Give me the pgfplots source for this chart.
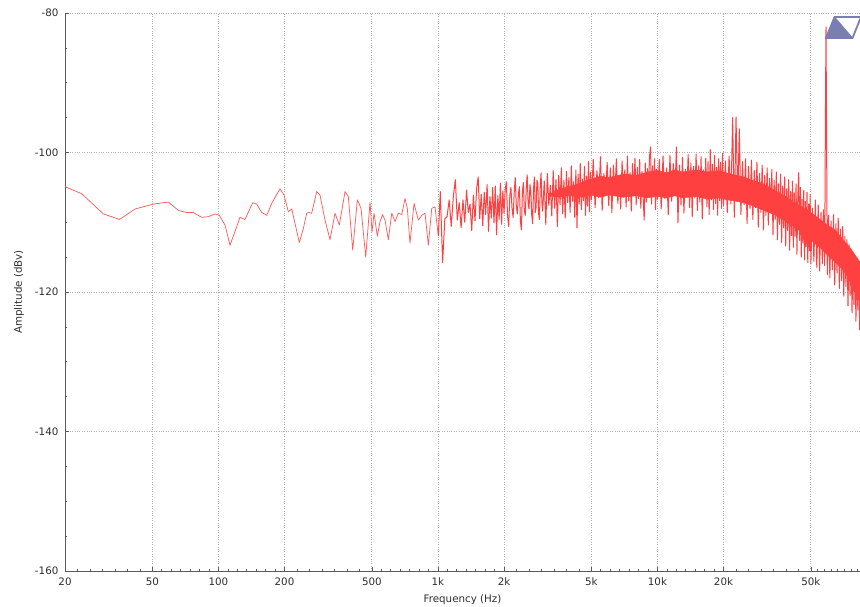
\documentclass[border=0pt]{standalone}
\usepackage{pgfplots}
\pgfplotsset{compat=1.18}
\usepackage{pgfplotstable}
\usepackage{fontspec}
\setmainfont{DejaVu Sans}
\definecolor{sigred}{RGB}{255,64,64}
\definecolor{markblue}{RGB}{122,126,176}
\definecolor{axgray}{RGB}{90,90,90}
\definecolor{txt}{RGB}{45,45,45}

\pgfplotstableread{
f a
20 -104.9
23.8 -105.9
29.9 -108.8
35.4 -109.6
41.7 -108.1
50.5 -107.4
59.1 -107.1
65.7 -108.3
71.7 -108.6
76.8 -108.6
83.9 -109.3
89.9 -109.2
96.5 -108.8
100.9 -109.0
107.1 -110.4
112.9 -113.3
125.4 -109.3
132.1 -109.6
143.3 -107.2
149.4 -107.4
157.4 -108.6
166.0 -109.0
174.9 -107.3
190.8 -105.2
199.0 -106.1
208.2 -108.5
215.7 -108.1
233.6 -112.9
243.6 -110.9
252.5 -108.7
258 -108.6
266 -108.7
280.4 -105.6
290.2 -106.1
305.9 -109.7
322.4 -112.5
339.8 -108.7
355.5 -110.4
377.3 -105.6
390.6 -106.3
409.0 -114.0
429.3 -106.8
446.2 -108.0
468.8 -115.0
490.4 -107.1
500.8 -111.4
511.4 -108.7
529.5 -112.0
544.7 -109.9
559 -108.9
574.1 -109.7
594.3 -112.5
615.9 -108.7
637.6 -109.9
660.1 -108.7
684.1 -108.9
707.9 -106.6
725.3 -108.0
746.1 -113.0
778.1 -107.3
814.1 -109.7
843.7 -109.0
873.4 -108.7
904.1 -113.3
937.0 -108.0
969.8 -107.8
1004 -112.0
}\lowpart

\pgfplotstableread{
f a
1004 -112.0
1025 -105.6
1050 -115.8
1075 -109.5
1100 -109.2
1125 -106.8
1150 -110.6
1175 -106.3
1200 -103.9
1225 -109.7
1250 -107.2
1275 -110.8
1300 -106.8
1325 -110.0
1350 -105.4
1375 -108.6
1400 -107.4
1425 -111.2
1450 -106.1
1475 -109.8
1500 -105.2
1525 -103.5
1550 -109.5
1575 -106.0
1600 -110.5
1625 -105.7
1650 -108.9
1675 -104.6
1700 -111.3
1725 -106.3
1750 -109.4
1775 -105.0
1800 -110.1
1825 -104.8
1850 -111.8
1875 -106.2
1900 -109.6
1925 -104.4
1950 -110.3
1975 -105.5
2000 -108.7
2025 -105.3
2050 -104.2
2075 -109.1
2100 -110.6
2125 -106.2
2150 -105.0
2175 -108.0
2200 -109.3
2225 -105.8
2250 -103.6
2275 -107.7
2300 -108.8
2325 -106.0
2350 -104.9
2375 -109.9
2400 -111.1
2425 -105.6
2450 -104.3
2475 -108.4
2500 -109.0
2525 -105.1
2550 -103.2
2575 -107.3
2600 -108.1
2625 -104.6
2650 -105.6
2675 -109.0
2700 -110.2
2725 -105.2
2750 -103.5
2775 -108.6
2800 -107.9
2825 -104.0
2850 -104.4
2875 -108.8
2900 -109.6
2925 -104.9
2950 -102.9
2975 -107.1
3000 -108.4
3050 -104.1
3100 -110.3
3150 -103.0
3200 -107.6
3250 -104.7
3300 -109.1
3350 -102.6
3400 -108.0
3450 -103.9
3500 -110.6
3550 -103.3
3600 -107.5
3650 -102.2
3700 -108.8
3750 -104.0
3800 -109.4
3850 -102.7
3900 -107.2
3950 -103.6
4000 -108.6
4050 -101.9
4100 -107.0
4150 -104.2
4200 -109.3
4250 -102.5
4300 -110.8
4350 -103.1
4400 -107.4
4450 -101.6
4500 -108.2
4550 -103.8
4600 -106.9
4650 -102.0
4700 -109.0
4750 -103.4
4800 -107.7
4850 -101.3
4900 -108.5
4950 -102.8
5000 -106.8
5100 -101.0
5200 -107.9
5300 -102.6
5400 -106.5
5500 -100.6
5600 -108.3
5700 -103.0
5800 -106.0
5900 -101.4
6000 -107.6
6100 -102.2
6200 -108.6
6300 -101.8
6400 -105.9
6500 -100.9
6600 -107.3
6700 -103.3
6800 -108.1
6900 -101.2
7000 -106.4
7100 -102.5
7200 -107.8
7300 -100.5
7400 -106.9
7500 -102.9
7600 -108.4
7700 -101.6
7800 -105.7
7900 -100.8
8000 -107.5
8100 -102.1
8200 -106.6
8300 -101.0
8400 -108.0
8500 -102.7
8600 -106.2
8700 -109.7
8800 -101.5
8900 -107.1
9000 -102.3
9100 -105.8
9200 -100.6
9300 -99.2
9400 -107.4
9500 -101.9
9600 -106.3
9700 -100.9
9800 -108.2
9900 -102.4
10000 -106.7
10200 -101.0
10400 -108.1
10600 -100.5
10800 -106.6
11000 -102.2
11200 -108.9
11400 -100.4
11600 -107.0
11800 -101.6
12000 -106.2
12200 -99.2
12400 -110.1
12600 -101.8
12800 -107.5
13000 -100.7
13200 -108.7
13400 -102.4
13600 -106.0
13800 -100.3
14000 -107.9
14200 -101.5
14400 -109.2
14600 -102.0
14800 -106.5
15000 -100.2
15200 -108.3
15400 -101.9
15600 -107.1
15800 -100.6
16000 -109.5
16200 -102.5
16400 -106.4
16600 -100.8
16800 -107.8
17000 -101.3
17200 -108.9
17400 -99.6
17600 -106.8
17800 -101.7
18000 -108.2
18200 -100.4
18400 -107.3
18600 -102.1
18800 -109.0
19000 -100.9
19200 -106.9
19400 -101.4
19600 -108.0
19800 -100.1
20000 -107.6
20400 -101.2
20800 -108.6
21200 -100.5
21600 -107.4
22000 -95.0
22400 -109.3
22800 -94.9
23200 -106.8
23600 -96.6
24000 -108.9
24400 -101.3
24800 -107.5
25200 -100.9
25600 -110.2
26000 -102.0
26400 -108.0
26800 -101.1
27200 -109.6
27600 -102.6
28000 -107.9
28400 -101.4
28800 -110.7
29200 -103.0
29600 -108.6
30000 -101.8
30400 -111.1
30800 -103.3
31200 -109.0
31600 -102.2
32000 -110.4
32400 -103.7
32800 -108.5
33200 -102.4
33600 -111.8
34000 -104.0
34400 -109.6
34800 -102.8
35200 -112.5
35600 -104.5
36000 -110.3
36400 -103.1
36800 -112.9
37200 -104.8
37600 -110.8
38000 -103.5
38400 -113.4
38800 -105.2
39200 -111.2
39600 -103.9
40000 -114.0
40400 -105.6
40800 -111.9
41200 -104.1
41600 -113.6
42000 -105.8
42400 -112.0
42800 -104.5
43200 -114.6
43600 -106.3
44000 -102.9
44400 -112.6
44800 -105.0
45200 -115.0
45600 -106.7
46000 -113.0
46400 -105.4
46800 -115.4
47200 -107.0
47600 -113.5
48000 -105.7
48400 -115.8
48800 -107.4
49200 -114.1
49600 -106.0
50000 -116.0
50800 -108.0
51600 -115.6
52400 -106.8
53200 -116.5
54000 -107.5
54800 -117.0
55600 -108.6
56400 -115.9
57000 -108.2
57800 -116.2
58200 -96.0
58600 -82.0
59000 -100.0
59400 -117.5
60200 -109.0
61000 -118.0
61800 -109.8
62600 -116.8
63400 -108.9
64200 -119.0
65000 -110.2
65800 -117.3
66600 -109.4
67400 -119.5
68200 -111.0
69000 -118.4
69800 -110.6
70600 -120.6
71400 -112.0
72200 -119.2
73000 -112.5
73800 -122.0
74600 -113.2
75400 -120.5
76200 -113.9
77000 -123.0
77800 -114.3
78600 -121.8
79400 -114.8
80200 -124.2
81000 -115.0
81800 -122.6
82600 -115.6
83400 -125.4
84200 -116.0
}\highpart

\begin{document}
\fontsize{10.3}{12}\selectfont
\begin{tikzpicture}
\begin{axis}[
  at={(0,0)}, anchor=south west,
  scale only axis, width=795pt, height=558pt,
  xmode=log, xmin=20, xmax=83700, ymin=-160, ymax=-80,
  axis x line*=bottom, axis y line*=left,
  axis line style={-, axgray, line width=0.8pt},
  tick align=inside,
  tick style={axgray, line width=0.7pt},
  major tick length=4pt, minor tick length=2.5pt,
  xtick={20,50,100,200,500,1000,2000,5000,10000,20000,50000},
  xticklabels={20,50,100,200,500,1k,2k,5k,10k,20k,50k},
  minor xtick={22.80,25.99,29.62,33.77,38.49,43.87,
    55.20,60.95,67.30,74.30,82.03,90.57,
    110.4,121.9,134.6,148.6,164.1,181.1,
    228.0,259.9,296.2,337.7,384.9,438.7,
    552.0,609.5,673.0,743.0,820.3,905.7,
    1104,1219,1346,1486,1641,1811,
    2280,2599,2962,3377,3849,4387,
    5520,6095,6730,7430,8203,9057,
    11041,12190,13459,14860,16407,18114,
    22798,25988,29623,33767,38491,43874,
    53640,57540,61730,66220,71040,76210,81760},
  ytick={-160,-140,-120,-100,-80},
  yticklabels={-160,-140,-120,-100,-80},
  minor ytick={-155,-150,-145,-135,-130,-125,-115,-110,-105,-95,-90,-85},
  xmajorgrids, ymajorgrids,
  major grid style={dotted, gray!60, line width=0.8pt},
  ticklabel style={text=txt, font=\fontsize{10.3}{12}\selectfont},
  xticklabel style={yshift=-3pt},
  yticklabel style={xshift=-3pt},
  xlabel={Frequency (Hz)},
  ylabel={Amplitude (dBv)},
  label style={text=txt, font=\fontsize{10.3}{12}\selectfont},
  xlabel style={at={(rel axis cs:0.5,0)}, anchor=center, yshift=-29pt},
  ylabel style={at={(rel axis cs:0,0.5)}, anchor=center, yshift=46pt},
]
% solid core of the noise band
\addplot[fill=sigred, draw=sigred, line width=0.5pt] coordinates {
 (3200,-106.0) (3600,-105.2) (4000,-104.9) (4500,-104.3) (5000,-103.8) (5500,-103.4)
 (6000,-103.6) (7000,-103.1) (8000,-103.3) (9000,-102.8) (10000,-102.6) (11000,-102.9)
 (12000,-102.5) (13000,-102.8) (15000,-102.5) (17000,-102.8) (19000,-102.6)
 (21000,-103.0) (24000,-103.4) (27000,-104.0) (30000,-104.4) (34000,-105.4)
 (38000,-106.2) (42000,-107.2) (46000,-107.9) (50000,-108.6) (55000,-109.6)
 (60000,-110.5) (65000,-111.2) (70000,-112.5) (76000,-113.8) (84000,-115.8)
 (84000,-120.5) (76000,-118.6) (70000,-116.8) (65000,-115.8) (60000,-114.8)
 (55000,-113.6) (50000,-112.6) (46000,-111.6) (42000,-110.6) (38000,-109.8)
 (34000,-108.9) (30000,-108.2) (27000,-107.6) (24000,-107.1) (21000,-106.8)
 (19000,-106.5) (17000,-106.7) (15000,-106.3) (13000,-106.5) (12000,-106.2)
 (11000,-106.5) (10000,-106.3) (9000,-106.5) (8000,-106.2) (7000,-106.4)
 (6000,-106.1) (5500,-106.4) (5000,-106.1) (4500,-106.4) (4000,-106.1)
 (3600,-106.4) (3200,-106.2)} -- cycle;
\addplot[sigred!85, line width=0.75pt, line join=round] table[x=f, y=a] {\lowpart};
\addplot[sigred, line width=1.0pt, line join=round] table[x=f, y=a] {\highpart};
\addplot[draw=markblue, fill=markblue, line width=0.8pt] coordinates {(58600,-83.58) (64100,-80.57) (77400,-83.58)} -- cycle;
\addplot[draw=markblue, line width=1.8pt, line join=miter] coordinates {(58600,-83.58) (64100,-80.57) (84600,-80.57) (77400,-83.58)} -- cycle;
\end{axis}
\pgfresetboundingbox
\path[use as bounding box] (-65pt,-35pt) rectangle (795pt,571pt);
\end{tikzpicture}
\end{document}
